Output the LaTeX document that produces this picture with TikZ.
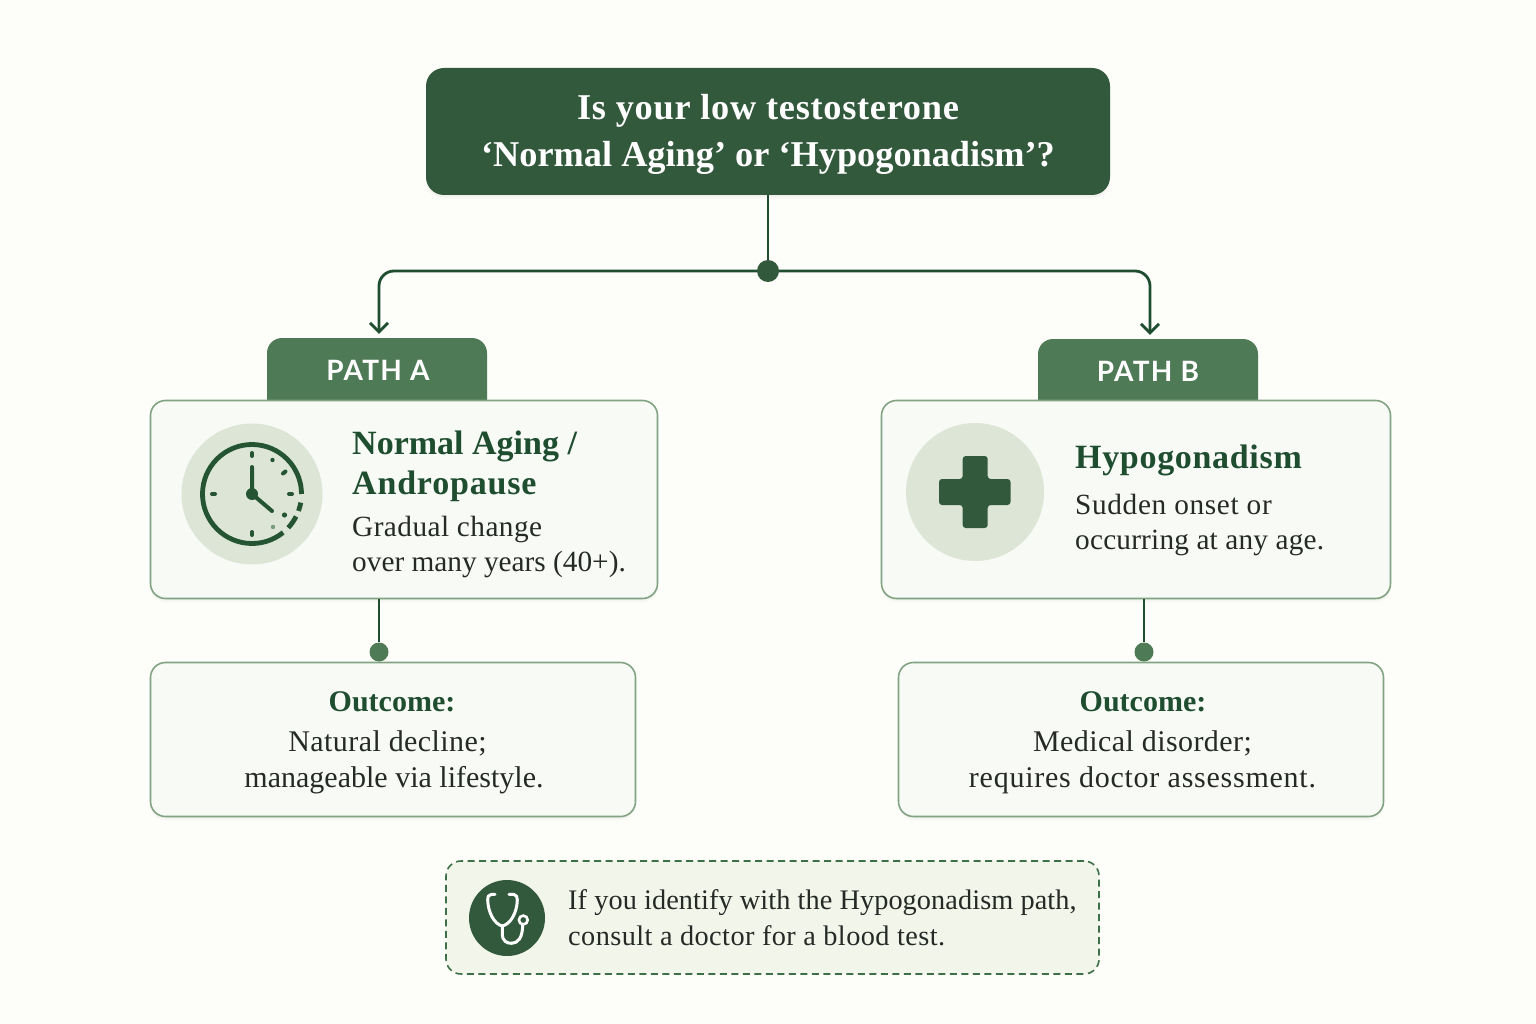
\documentclass[tikz,border=0pt]{standalone}
\usepackage{fontspec}
\setmainfont{Liberation Serif}
\newfontfamily\tabfont{Lato}
\usetikzlibrary{arrows.meta,shadows}
\definecolor{bgc}{HTML}{FDFDFA}
\definecolor{titlec}{HTML}{33593C}
\definecolor{tabc}{HTML}{4F7A56}
\definecolor{cardc}{HTML}{F7FAF5}
\definecolor{bordc}{HTML}{82A382}
\definecolor{headc}{HTML}{1F4D2F}
\definecolor{bodyc}{HTML}{262A26}
\definecolor{notec}{HTML}{F1F5EA}
\definecolor{dashc}{HTML}{3E7048}
\definecolor{haloc}{HTML}{DDE6D6}
\definecolor{ringc}{HTML}{245432}
\newcommand{\ls}[1]{\addfontfeature{LetterSpace=#1}}
\tikzset{
  x=1pt,y=-1pt,
  softshadow/.style={drop shadow={opacity=.05,shadow xshift=0pt,shadow yshift=-2pt},drop shadow={opacity=.04,shadow xshift=0pt,shadow yshift=-4pt}},
  titlebox/.style={fill=titlec,rounded corners=18pt,minimum width=684pt,minimum height=127pt,softshadow,inner sep=0pt},
  titletext/.style={text=white,align=center,font=\fontsize{36.3}{47}\selectfont\bfseries},
  tabbox/.style={fill=tabc,rounded corners=15pt,minimum width=220pt,minimum height=90pt,inner sep=0pt},
  tabtext/.style={text=white,font=\fontsize{28}{30}\selectfont\tabfont\bfseries\ls{4.5}},
  cardbox/.style={fill=cardc,draw=bordc,line width=1.6pt,rounded corners=15pt,softshadow,inner sep=0pt},
  headtext/.style={text=headc,anchor=west,align=left,inner sep=0pt,font=\fontsize{34}{40}\selectfont\bfseries},
  bodytext/.style={text=bodyc,anchor=west,align=left,inner sep=0pt,font=\fontsize{29.3}{35}\selectfont},
  conn/.style={draw=headc,line width=2.8pt},
  bigdot/.style={circle,fill=titlec,minimum size=22pt,inner sep=0pt},
  smalldot/.style={circle,fill=tabc,minimum size=19pt,inner sep=0pt},
  halo/.style={circle,fill=haloc,inner sep=0pt},
  ticks/.style={draw=ringc,line width=4pt,line cap=round},
  barb/.style={-{Straight Barb[length=9pt,width=18pt,line width=2.8pt]}},
  outhead/.style={text=headc,font=\fontsize{30}{35}\selectfont\bfseries,inner sep=0pt},
  outbody/.style={text=bodyc,align=center,font=\fontsize{30}{36}\selectfont,inner sep=0pt},
}
\begin{document}
\begin{tikzpicture}
\useasboundingbox (0,0) rectangle (1536,1024);
\fill[bgc] (0,0) rectangle (1536,1024);

% title
\node[titlebox] (title) at (768,131.5) {};
\node[titletext] (titlet) at (768,134) {{\ls{2}Is your low testosterone}\\‘Normal Aging’ or ‘Hypogonadism’?};

% tabs
\node[tabbox] (tabA) at (377,383) {};
\node[tabbox] (tabB) at (1148,384) {};
\node[tabtext] (tabAt) at (378,370) {PATH A};
\node[tabtext] (tabBt) at (1148,371) {PATH B};

% cards
\node[cardbox,minimum width=507pt,minimum height=198pt] (cardA) at (404,499.5) {};
\node[cardbox,minimum width=509pt,minimum height=198pt] (cardB) at (1136,499.5) {};
\node[cardbox,minimum width=485pt,minimum height=154pt] (outA) at (393,739.5) {};
\node[cardbox,minimum width=485pt,minimum height=154pt] (outB) at (1141,739.5) {};

% junction and connectors
\node[bigdot] (junc) at (768,271) {};
\draw[conn] (title.south) -- (junc);
\draw[conn,barb,rounded corners=15pt,shorten >=4pt] (junc) -| ([xshift=2pt]tabA.north);
\draw[conn,barb,rounded corners=15pt,shorten >=4pt] (junc) -| ([xshift=2pt]tabB.north);

\node[smalldot] (dotA) at (379,652) {};
\node[smalldot] (dotB) at (1144,652) {};
\draw[conn] (dotA |- cardA.south) -- (dotA);
\draw[conn] (dotB |- cardB.south) -- (dotB);

% clock icon
\node[halo,minimum size=141pt] (clockhalo) at (252,494) {};
\draw[ringc,line width=4.8pt] (252,494) ++(51:49.5) arc[start angle=51,end angle=360,radius=49.5];
\draw[ringc,line width=4.8pt] (252,494) ++(10:49.5) arc[start angle=10,end angle=20,radius=49.5];
\draw[ringc,line width=4.8pt] (252,494) ++(27:49.5) arc[start angle=27,end angle=43,radius=49.5];
\draw[ticks] (252,453) -- (252,456);
\draw[ticks] (252,532) -- (252,535);
\draw[ticks] (212,494) -- (215,494);
\draw[ticks] (289,494) -- (292,494);
\draw[ticks] (283,473.5) -- (285.5,471.5);
\fill[ringc] (272.5,460) circle[radius=2.2];
\fill[ringc] (284.5,515) circle[radius=2.6];
\fill[tabc!70!haloc] (273,527) circle[radius=2.2];
\draw[ringc,line width=4pt,line cap=round] (252,467) -- (252,494) -- (272,511);
\fill[ringc] (252,494) circle[radius=6];

% card A text
\node[headtext] (headA) at (352,466) {Normal Aging /\\{\ls{2.4}Andropause}};
\node[bodytext] (bodyA) at (352,547) {{\ls{1.5}Gradual change}\\over many years (40+).};

% plus icon
\node[halo,minimum size=138pt] (plushalo) at (975,492) {};
\fill[titlec,rounded corners=3pt] (962.7,456) -- (987.7,456) -- (987.7,479) -- (1010.5,479) -- (1010.5,505) -- (987.7,505) -- (987.7,528) -- (962.7,528) -- (962.7,505) -- (939,505) -- (939,479) -- (962.7,479) -- cycle;

% card B text
\node[headtext] (headB) at (1075,460) {\ls{2}Hypogonadism};
\node[bodytext] (bodyB) at (1075,525) {{\ls{2.2}Sudden onset or}\\{\ls{0.65}occurring at any age.}};

% outcomes
\node[outhead] (ohA) at (392,702) {Outcome:};
\node[outbody] (obA) at (394,762) {{\ls{1.4}Natural decline;}\rule{13pt}{0pt}\\manageable via lifestyle.};
\node[outhead] (ohB) at (1143,702) {Outcome:};
\node[outbody] (obB) at (1142.5,762) {{\ls{1.4}Medical disorder;}\\{\ls{2.5}requires doctor assessment.}};

% note
\node[fill=notec,draw=dashc,line width=1.6pt,dash pattern=on 7pt off 4.5pt,rounded corners=15pt,minimum width=653pt,minimum height=113pt,inner sep=0pt] (note) at (772.5,917.5) {};
\node[circle,fill=titlec,minimum size=76pt,inner sep=0pt] (steth) at (507,918) {};
\draw[white,line width=3pt,line cap=round,line join=round]
  (495,894.3) -- (491,894.5) .. controls (488,895) and (487.5,897) .. (487.7,900)
  .. controls (488,912) and (494,924) .. (502.3,926)
  .. controls (511,924) and (517,912) .. (517.3,900)
  .. controls (517.5,897) and (516.5,895) .. (514,894.5) -- (509,894.3);
\draw[white,line width=3pt,line cap=round]
  (502.3,926) -- (502.3,934) .. controls (502.3,941) and (507,943.5) .. (511.7,943.3)
  .. controls (518,943) and (522.5,938) .. (522.7,925);
\draw[white,line width=2.6pt,fill=titlec] (523.3,920) circle[radius=4.4];
\node[bodytext,font=\fontsize{28.3}{36}\selectfont] (notet) at (568,917.5) {{\ls{0.3}If you identify with the Hypogonadism path,}\\{\ls{1.5}consult a doctor for a blood test.}};
\end{tikzpicture}
\end{document}
